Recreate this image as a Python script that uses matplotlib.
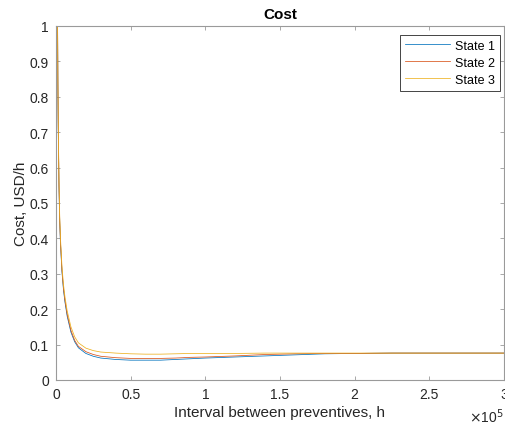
import numpy as np
import matplotlib.pyplot as plt
from matplotlib.ticker import FuncFormatter

plt.rcParams['font.family'] = ['Liberation Sans', 'DejaVu Sans']

# interval between preventive maintenance, in units of 1e5 h
interval = [0.008, 0.01, 0.0125, 0.015, 0.02, 0.025, 0.03, 0.04, 0.05, 0.06,
            0.075, 0.1, 0.125, 0.15, 0.2, 0.25, 0.3, 0.4, 0.5, 0.6,
            0.7, 0.8, 0.9, 1.0, 1.2, 1.4, 1.6, 1.8, 2.0, 2.25,
            2.5, 2.75, 3.0]

cost_state1 = [1.28, 1.04, 0.84, 0.71, 0.545, 0.445, 0.385, 0.305, 0.255, 0.22,
               0.18, 0.135, 0.108, 0.091, 0.075, 0.067, 0.062, 0.058, 0.056, 0.056,
               0.056, 0.058, 0.060, 0.062, 0.065, 0.068, 0.071, 0.074, 0.075, 0.076,
               0.076, 0.076, 0.076]
cost_state2 = [1.29, 1.05, 0.85, 0.72, 0.55, 0.45, 0.39, 0.31, 0.26, 0.225,
               0.185, 0.14, 0.112, 0.095, 0.080, 0.072, 0.067, 0.063, 0.061, 0.061,
               0.061, 0.062, 0.064, 0.065, 0.068, 0.072, 0.074, 0.075, 0.075, 0.076,
               0.076, 0.076, 0.076]
cost_state3 = [1.30, 1.06, 0.86, 0.73, 0.56, 0.46, 0.40, 0.32, 0.27, 0.235,
               0.195, 0.150, 0.122, 0.105, 0.090, 0.083, 0.079, 0.076, 0.074, 0.073,
               0.073, 0.074, 0.075, 0.075, 0.075, 0.076, 0.076, 0.076, 0.076, 0.076,
               0.076, 0.076, 0.076]

labels = ['State 1', 'State 2', 'State 3']
colors = ['#0072BD', '#D95319', '#EDB120']

x_ticks = [0, 0.5, 1, 1.5, 2, 2.5, 3]
y_ticks = [0, 0.1, 0.2, 0.3, 0.4, 0.5, 0.6, 0.7, 0.8, 0.9, 1]

axis_gray = '#262626'
box_gray = '#9a9a9a'

fig = plt.figure(figsize=(5.05, 4.27), dpi=100)
ax = fig.add_axes([56 / 505, 46 / 427, 448 / 505, 354 / 427])

x = np.array(interval) * 1e5
for y, lab, c in zip([cost_state1, cost_state2, cost_state3], labels, colors):
    ax.plot(x, y, color=c, linewidth=0.55, label=lab)

ax.set_xlim(0, 3e5)
ax.set_ylim(0, 1)
ax.set_xticks([t * 1e5 for t in x_ticks])
ax.xaxis.set_major_formatter(FuncFormatter(lambda v, p: '%g' % (v / 1e5)))
ax.set_yticks(y_ticks)
ax.yaxis.set_major_formatter(FuncFormatter(lambda v, p: '%g' % v))

ax.tick_params(direction='in', length=3, width=0.6, colors=box_gray,
               labelcolor=axis_gray, labelsize=10, top=True, right=True, pad=5)
for s in ax.spines.values():
    s.set_color(box_gray)
    s.set_linewidth(0.8)

ax.set_xlabel('Interval between preventives, h', fontsize=11, color=axis_gray, labelpad=3)
ax.set_ylabel('Cost, USD/h', fontsize=11, color=axis_gray, labelpad=1)
ax.set_title('Cost', fontsize=11, fontweight='bold', color='black', pad=6)

ax.text(1.0, -0.075, r'$\times$10$^5$', transform=ax.transAxes, ha='right', va='top',
        fontsize=10, color=axis_gray)

leg = ax.legend(loc='upper right', bbox_to_anchor=(0.991, 0.975), borderaxespad=0,
                fontsize=9, fancybox=False, framealpha=1, edgecolor=axis_gray,
                handlelength=3.6, labelspacing=0.4, handletextpad=0.4, borderpad=0.4)
leg.get_frame().set_linewidth(0.6)

fig.savefig('out.png', dpi=100)
